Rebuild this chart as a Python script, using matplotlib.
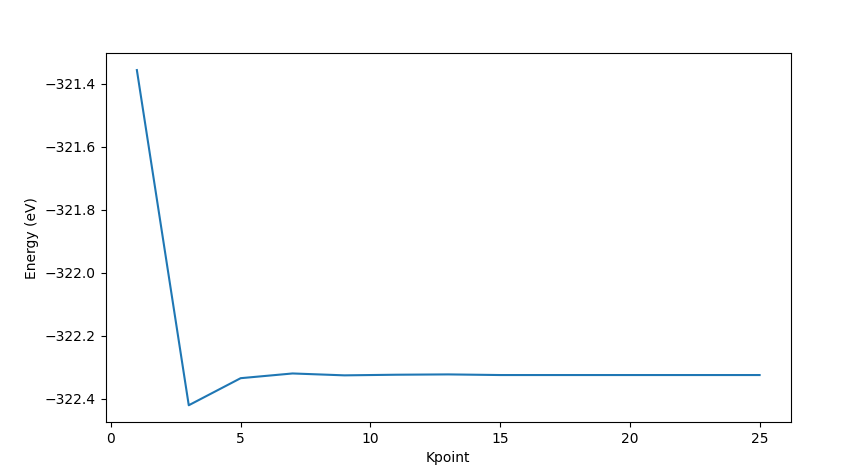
import matplotlib
matplotlib.use("Agg")
import matplotlib.pyplot as plt

kpoints = [1, 3, 5, 7, 9, 11, 13, 15, 17, 19, 21, 23, 25]
energy = [-321.356, -322.421, -322.335, -322.320, -322.326, -322.324, -322.323,
          -322.325, -322.325, -322.325, -322.325, -322.325, -322.325]

fig = plt.figure(figsize=(8.61, 4.7), dpi=100)
plt.subplots_adjust(left=0.1228, right=0.9184, top=0.8866, bottom=0.1021)
plt.plot(kpoints, energy)
plt.xlabel("Kpoint")
plt.ylabel("Energy (eV)")
plt.savefig("out.png")
